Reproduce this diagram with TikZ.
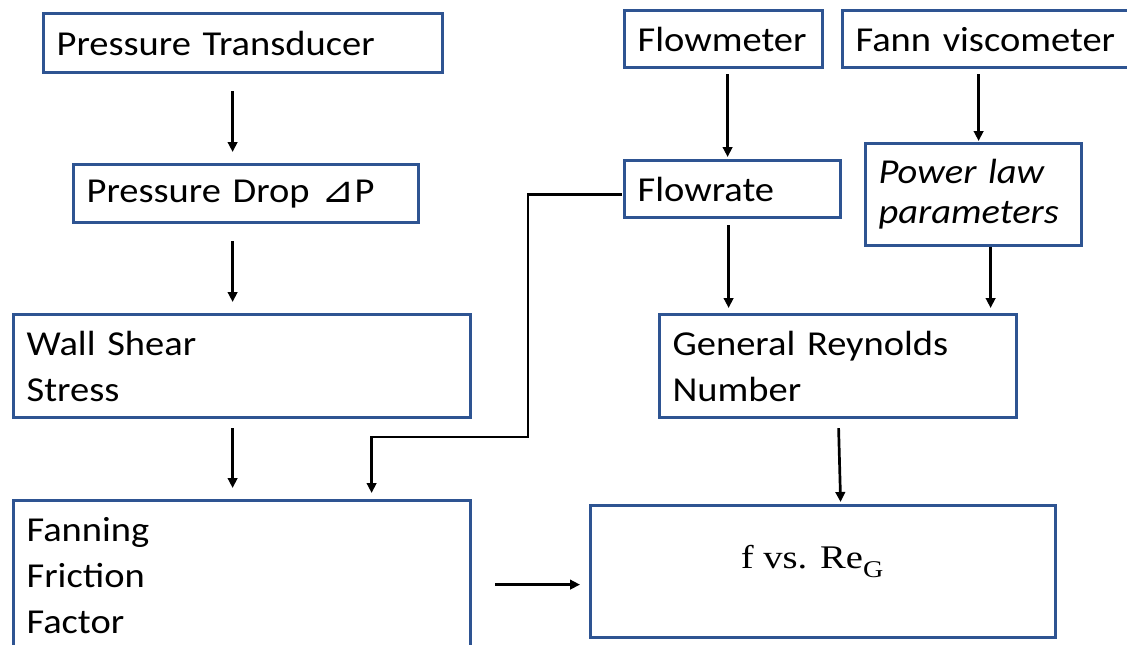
\documentclass[tikz,border=0pt]{standalone}
\usepackage{fontspec}
\setmainfont{Carlito}[FakeStretch=1.1]
\newfontfamily\serifrm{Liberation Serif}[FakeStretch=1.17]
\newfontfamily\symfont{DejaVu Sans}[FakeStretch=1.1]
\usetikzlibrary{calc,arrows.meta}
\definecolor{boxblue}{RGB}{46,84,146}
\tikzset{
  stage/.style={draw=boxblue, line width=3.2pt, rectangle, anchor=north west,
    inner xsep=13pt, inner ysep=0pt, align=left,
    font=\fontsize{35}{46}\selectfont},
  arr/.style={line width=2.7pt, -{Triangle[length=10pt,width=9.5pt]}},
}
\begin{document}
\begin{tikzpicture}[x=1pt,y=-1pt]
\useasboundingbox (0,0) rectangle (1127,645);
\clip (0,0) rectangle (1127,645);
\fill[white] (0,0) rectangle (1127,645);

% left column
\node[stage, minimum width=399pt, minimum height=59pt, text width=373pt] (PT) at (42,12) {Pressure Transducer};
\node[stage, minimum width=345pt, minimum height=58pt, text width=319pt] (PD) at (72,163)
  {Pressure Drop {\symfont\fontsize{36}{36}\selectfont ⊿}P};
\node[stage, minimum width=457pt, minimum height=103pt, text width=431pt] (WSS) at (12,313) {Wall Shear\\Stress};
\node[stage, minimum width=457pt, minimum height=150pt, text width=431pt] (FFF) at (12,499) {Fanning\\Friction\\Factor};

% right columns
\node[stage, minimum width=198pt, minimum height=57pt, text width=172pt] (FM) at (623,9) {Flowmeter};
\node[stage, minimum width=299pt, minimum height=57pt, text width=273pt] (FV) at (841,9) {Fann viscometer};
\node[stage, minimum width=216pt, minimum height=57pt, text width=190pt] (FR) at (623,159) {Flowrate};
\node[stage, minimum width=216pt, minimum height=102pt, text width=190pt,
      font=\fontsize{35}{40}\selectfont\itshape] (PLP) at (864,142) {Power law\\parameters};
\node[stage, minimum width=357pt, minimum height=103pt, text width=331pt] (GRN) at (658,313) {General Reynolds\\Number};
\node[draw=boxblue, line width=3.2pt, rectangle, anchor=north west, inner sep=0pt,
      minimum width=465pt, minimum height=132pt, text height=22pt, text depth=28pt,
      font=\serifrm\fontsize{33}{36}\selectfont] (FRE) at (589,504)
  {f vs. Re\raisebox{-9pt}{\fontsize{24}{24}\selectfont G}\kern22pt\null};

% connectors
\draw[arr] ($(PT.south)+(-10.5,17)$) -- ($(PD.north)+(-13.5,-11)$);
\draw[arr] ($(PD.south)+(-13.5,17)$) -- ($(WSS.north)+(-9.5,-11)$);
\draw[arr] ($(WSS.south)+(-9.5,9)$) -- ($(FFF.north)+(-9.5,-11)$);
\draw[arr] ($(FM.south)+(4,5)$) -- ($(FR.north)+(-5,-2)$);
\draw[arr] ($(FV.south)+(-13.5,5)$) -- ($(PLP.north)+(5,-1)$);
\draw[arr] ($(FR.south)+(-4,6)$) -- ($(GRN.north)+(-109.5,-5)$);
\draw[arr] ($(PLP.south)+(17,0)$) -- ($(GRN.north)+(152.5,-5)$);
\coordinate (bend) at (528,437);
\draw[arr, line join=miter] ($(FR.west)+(-1,5.5)$) -| (bend) -| ($(FFF.north)+(129.5,-6)$);
\draw[arr] ($(GRN.south)+(0.5,9)$) -- ($(FRE.north)+(17.5,-2)$);
\draw[arr] ($(FFF.east)+(23,9)$) -- ($(FRE.west)+(-9,13)$);
\end{tikzpicture}
\end{document}
